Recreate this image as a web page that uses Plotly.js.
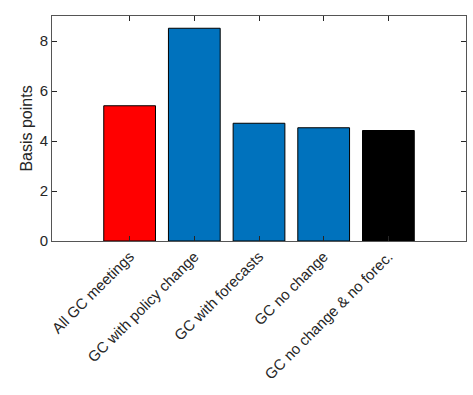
<!DOCTYPE html>
<html><head><meta charset="utf-8">
<script src="https://cdn.plot.ly/plotly-3.0.1.min.js"></script>
<style>html,body{margin:0;padding:0;background:#fff}#c{width:473px;height:395px}</style>
</head><body><div id="c"></div>
<script>
const categories = ["All GC meetings","GC with policy change","GC with forecasts","GC no change","GC no change & no forec."];
const values = [5.41, 8.51, 4.71, 4.53, 4.42];
const colors = ["#FF0000","#0072BD","#0072BD","#0072BD","#000000"];
const yTicks = [0,2,4,6,8];
const xPos = categories.map((_, i) => i + 1);

const trace = {
  type: 'bar', x: xPos, y: values, width: 0.8,
  marker: {color: colors, line: {color: '#000', width: 1}},
  hoverinfo: 'skip'
};
const layout = {
  width: 473, height: 395,
  margin: {l: 52, r: 7, t: 16, b: 154},
  paper_bgcolor: '#fff', plot_bgcolor: '#fff',
  font: {family: 'Arial, Liberation Sans, sans-serif', color: '#262626', size: 15},
  showlegend: false,
  xaxis: {
    range: [-0.2, 6.2], tickmode: 'array', tickvals: xPos, ticktext: categories,
    tickangle: -45, ticks: 'inside', ticklen: 5, tickcolor: '#262626',
    showline: true, linecolor: '#555', linewidth: 1, mirror: 'ticks',
    showgrid: false, zeroline: false, tickfont: {size: 15, color: '#262626'}
  },
  yaxis: {
    range: [0, 9], tickmode: 'array', tickvals: yTicks,
    ticks: 'inside', ticklen: 5, tickcolor: '#262626',
    showline: true, linecolor: '#555', linewidth: 1, mirror: 'ticks',
    showgrid: false, zeroline: false, tickfont: {size: 15, color: '#262626'},
    title: {text: 'Basis points', font: {size: 16, color: '#262626'}, standoff: 3}
  },
  bargap: 0.2
};
Plotly.newPlot('c', [trace], layout, {displayModeBar: false, staticPlot: true});
</script></body></html>
